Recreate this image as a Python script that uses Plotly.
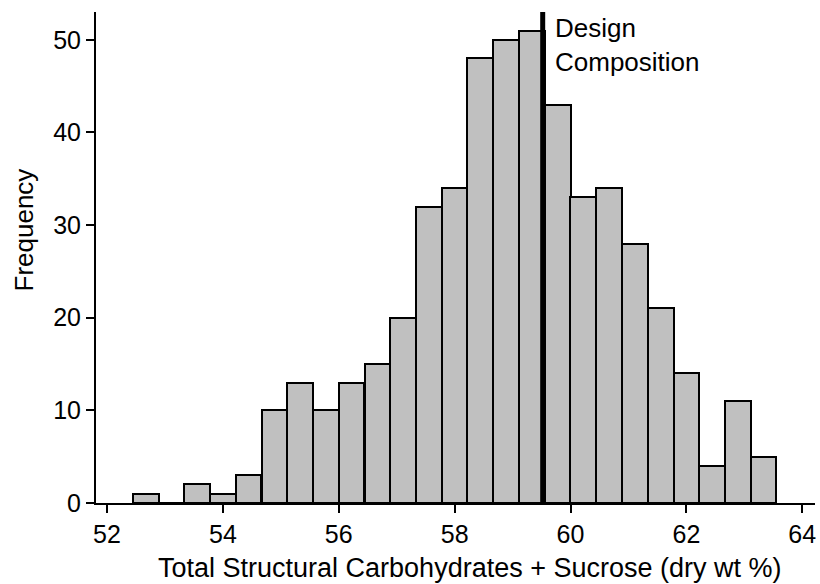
import plotly.graph_objects as go

# Histogram data (bin centers, counts)
bin_centers = [52.667, 53.111, 53.556, 54.0, 54.444, 54.889, 55.333, 55.778,
               56.222, 56.667, 57.111, 57.556, 58.0, 58.444, 58.889, 59.333,
               59.778, 60.222, 60.667, 61.111, 61.556, 62.0, 62.444, 62.889, 63.333]
counts = [1, 0, 2, 1, 3, 10, 13, 10, 13, 15, 20, 32, 34, 48, 50, 51,
          43, 33, 34, 28, 21, 14, 4, 11, 5]
bin_width = 4 / 9
design_value = 59.52
design_label = "Design<br>Composition"
x_title = "Total Structural Carbohydrates + Sucrose (dry wt %)"
y_title = "Frequency"
x_ticks = [52, 54, 56, 58, 60, 62, 64]
y_ticks = [0, 10, 20, 30, 40, 50]

FONT = "Liberation Sans, Arial, sans-serif"
W, H = 820, 584
ML, MR, MT, MB = 96, 5, 12, 81

fig = go.Figure()
fig.add_trace(go.Bar(
    x=bin_centers, y=counts, width=bin_width,
    marker=dict(color="#c0c0c0", line=dict(color="black", width=2)),
    showlegend=False, hoverinfo="x+y",
))

fig.add_shape(type="line", x0=design_value, x1=design_value, y0=0, y1=53,
              xref="x", yref="y", line=dict(color="black", width=5))

fig.add_annotation(x=design_value, y=53, xref="x", yref="y", text=design_label,
                   showarrow=False, xanchor="left", yanchor="top", align="left",
                   xshift=10, yshift=1,
                   font=dict(family=FONT, size=26, color="black"))

pw, ph = W - ML - MR, H - MT - MB
fig.add_annotation(x=(23 - ML) / pw, y=(H - MB - 230.5) / ph, xref="paper", yref="paper",
                   text=y_title, showarrow=False, textangle=-90,
                   xanchor="center", yanchor="middle",
                   font=dict(family=FONT, size=26, color="black"))

fig.add_annotation(x=(470 - ML) / pw, y=(H - MB - 568) / ph, xref="paper", yref="paper",
                   text=x_title, showarrow=False,
                   xanchor="center", yanchor="middle",
                   font=dict(family=FONT, size=27, color="black"))

fig.update_layout(
    width=W, height=H,
    margin=dict(l=ML, r=MR, t=MT, b=MB),
    paper_bgcolor="white", plot_bgcolor="white",
    font=dict(family=FONT, size=25, color="black"),
    bargap=0,
    xaxis=dict(range=[51.81, 64.22], tickvals=x_ticks, ticks="outside", ticklen=8,
               tickwidth=2, tickcolor="black", showline=True, linecolor="black",
               linewidth=2, showgrid=False, zeroline=False, automargin=False,
               tickfont=dict(size=25)),
    yaxis=dict(range=[0, 53], tickvals=y_ticks, ticks="outside", ticklen=8,
               tickwidth=2, tickcolor="black", showline=True, linecolor="black",
               linewidth=2, showgrid=False, zeroline=False, automargin=False,
               tickfont=dict(size=25)),
)

fig.write_html("out.html", config={"displayModeBar": False},
               post_script="document.body.style.margin='0px';document.body.style.overflow='hidden';")
